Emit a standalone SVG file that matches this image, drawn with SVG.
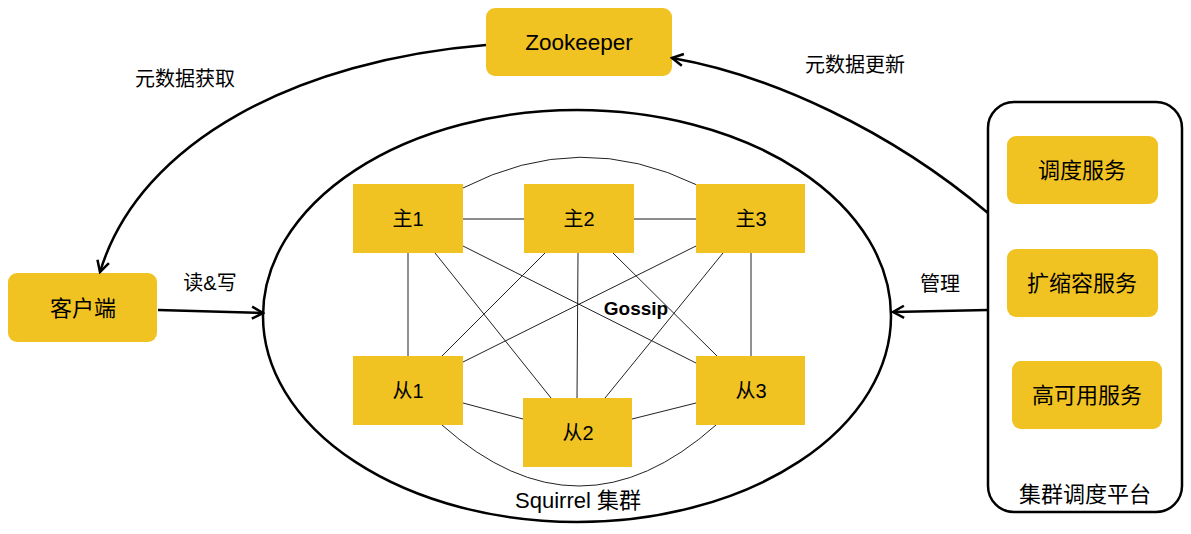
<svg xmlns="http://www.w3.org/2000/svg" width="1191" height="534" viewBox="0 0 1191 534">
<style>
.box{fill:#F0C322;}
.t{font-family:"Liberation Sans","Noto Sans CJK SC",sans-serif;fill:#000;text-anchor:middle;dominant-baseline:central;}
.n{font-size:22px;}
.m{font-size:20px;}
.l{font-size:20px;}
.g{fill:none;stroke:#222;stroke-width:1;}
.h{fill:none;stroke:#666;stroke-width:1.5;}
.a{fill:none;stroke:#000;stroke-width:2.5;}
</style>
<defs>
<marker id="arr" markerUnits="userSpaceOnUse" markerWidth="16" markerHeight="16" viewBox="0 0 16 16" refX="14" refY="8" orient="auto">
<path d="M3,2 L14,8 L3,14" fill="none" stroke="#000" stroke-width="2.5"/>
</marker>
</defs>
<rect width="1191" height="534" fill="#fff"/>

<g id="cluster">
<ellipse cx="577" cy="316" rx="314" ry="206" fill="none" stroke="#000" stroke-width="2.5"/>
<text class="t" x="578" y="500" style="font-size:22px">Squirrel 集群</text>
</g>

<g id="gossip-links">
<line class="h" x1="463" y1="219" x2="524" y2="219"/>
<line class="h" x1="634" y1="219" x2="696" y2="219"/>
<path class="g" d="M463,188 Q580,128 697,185"/>
<line class="g" x1="408" y1="253" x2="408" y2="356"/>
<line class="g" x1="578" y1="253" x2="577" y2="398"/>
<line class="g" x1="751" y1="253" x2="751" y2="356"/>
<line class="g" x1="435" y1="253" x2="551" y2="398"/>
<line class="g" x1="463" y1="246" x2="696" y2="363"/>
<line class="g" x1="545" y1="253" x2="442" y2="356"/>
<line class="g" x1="613" y1="253" x2="717" y2="356"/>
<line class="g" x1="696" y1="246" x2="463" y2="362"/>
<line class="g" x1="723" y1="253" x2="605" y2="398"/>
<line class="g" x1="463" y1="403" x2="523" y2="419"/>
<line class="g" x1="632" y1="419" x2="696" y2="403"/>
<path class="g" d="M442,425 Q579,547 716,425"/>
<text class="t" x="636" y="308" style="font-size:19px;font-weight:bold">Gossip</text>
</g>

<g id="m1"><rect class="box" x="353" y="184" width="110" height="69"/><text class="t m" x="408" y="219">主1</text></g>
<g id="m2"><rect class="box" x="524" y="184" width="110" height="69"/><text class="t m" x="579" y="219">主2</text></g>
<g id="m3"><rect class="box" x="696" y="184" width="109" height="69"/><text class="t m" x="751" y="219">主3</text></g>
<g id="s1"><rect class="box" x="353" y="356" width="110" height="69"/><text class="t m" x="408" y="391">从1</text></g>
<g id="s2"><rect class="box" x="523" y="398" width="109" height="69"/><text class="t m" x="578" y="433">从2</text></g>
<g id="s3"><rect class="box" x="696" y="356" width="109" height="69"/><text class="t m" x="751" y="391">从3</text></g>

<g id="zookeeper"><rect class="box" x="486" y="8" width="186" height="68" rx="9"/><text class="t" x="579" y="42" style="font-size:22.5px">Zookeeper</text></g>
<g id="client"><rect class="box" x="8" y="273" width="149" height="69" rx="9"/><text class="t n" x="83" y="308">客户端</text></g>

<g id="platform">
<rect x="988" y="102" width="194" height="410" rx="26" fill="none" stroke="#000" stroke-width="2.5"/>
<text class="t n" x="1085" y="494">集群调度平台</text>
</g>
<g id="sched"><rect class="box" x="1007" y="136" width="151" height="68" rx="9"/><text class="t n" x="1082" y="170">调度服务</text></g>
<g id="scale"><rect class="box" x="1007" y="249" width="151" height="68" rx="9"/><text class="t n" x="1082" y="283">扩缩容服务</text></g>
<g id="ha"><rect class="box" x="1012" y="361" width="150" height="68" rx="9"/><text class="t n" x="1087" y="395">高可用服务</text></g>

<g id="connectors">
<path class="a" d="M486,45 C300,60 140,140 100,272" marker-end="url(#arr)"/>
<path class="a" d="M988,213 C890,130 770,75 672,58" marker-end="url(#arr)"/>
<path class="a" d="M158,310 L263,313" marker-end="url(#arr)"/>
<path class="a" d="M988,310 L893,312" marker-end="url(#arr)"/>
<text class="t l" x="185" y="79">元数据获取</text>
<text class="t l" x="855" y="65">元数据更新</text>
<text class="t l" x="210" y="283">读&amp;写</text>
<text class="t l" x="940" y="284">管理</text>
</g>
</svg>
